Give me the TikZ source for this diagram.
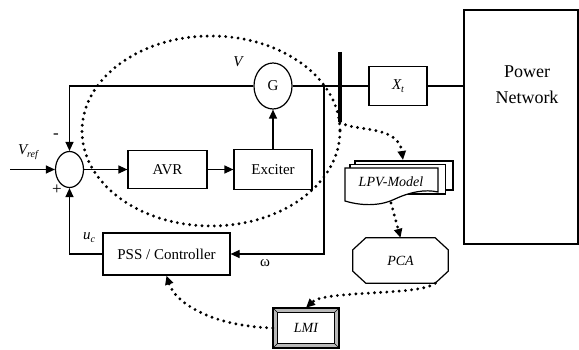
\documentclass[tikz,border=0pt]{standalone}
\usepackage{fontspec}
\setmainfont{Liberation Serif}
\usetikzlibrary{arrows.meta,shapes.geometric}
\newcommand\lbl[2]{{\itshape #1}\raisebox{-3pt}{\fontsize{10}{10}\selectfont\itshape #2}}
\begin{document}
\begin{tikzpicture}[x=1pt,y=-1pt,
  ln/.style={line width=1.2pt},
  arr/.style={ln,-{Triangle[length=9pt,width=8pt]}},
  blk/.style={draw,line width=1.2pt,inner sep=0pt,font=\fontsize{15}{18}\selectfont},
  itl/.style={inner sep=0pt,font=\fontsize{14}{17}\selectfont\itshape},
  txt/.style={inner sep=0pt,font=\fontsize{15}{18}\selectfont},
  dots/.style={line width=3.2pt,line cap=round,dash pattern=on 0pt off 6.2pt},
  darr/.style={dots,-{Triangle[length=9pt,width=8pt]}}
]
\useasboundingbox (0,0) rectangle (579,350);
% large dotted ellipse
\draw[dots] (211,131) ellipse [x radius=129, y radius=95];
% blocks
\node[ellipse,draw,ln,minimum width=28,minimum height=36,inner sep=0pt] (sum) at (69.5,169.5) {};
\node[blk,minimum width=79,minimum height=38] (avr) at (167.5,169.5) {AVR};
\node[blk,minimum width=78,minimum height=40] (exc) at (273,169.5) {Exciter};
\node[ellipse,draw,ln,minimum width=38,minimum height=46,inner sep=0pt,font=\fontsize{15}{18}\selectfont] (g) at (273,86) {G};
\node[blk,minimum width=58,minimum height=39] (xt) at (398,86) {\lbl{X}{t}};
\node[draw,line width=1.4pt,minimum width=114,minimum height=234,inner sep=0pt] (pn) at (521,127) {};
\node[txt,align=center,font=\fontsize{18}{26}\selectfont] (pntxt) at (527,85) {Power\\Network};
\node[blk,minimum width=127,minimum height=42] (pss) at (166.5,254) {PSS / Controller};
% bus bar
\coordinate (bt) at (340,52);
\coordinate (bb) at (340,122);
\draw[line width=3.2pt] (bt) -- (bb);
% connections
\coordinate (tl) at (69.5,86);
\coordinate (vin) at (10,169.5);
\coordinate (tap) at (324,86);
\coordinate (cr) at (324,254);
\coordinate (bl) at (69.5,254);
\draw[ln] (g.east) -- (xt.west);
\draw[ln] (xt.east) -- (xt.east -| pn.west);
\draw[arr] (g.west) -- (tl) -- (sum.north);
\draw[arr] (vin) -- (sum.west);
\draw[arr] (sum.east) -- (avr.west);
\draw[arr] (avr.east) -- (exc.west);
\draw[arr] (exc.north) -- (g.south);
\draw[arr] (tap) -- (cr) -- (pss.east);
\draw[arr] (pss.west) -- (bl) -- (sum.south);
% labels
\node[itl,font=\fontsize{15}{18}\selectfont\itshape] (vref) at (28,152) {\lbl{V}{ref}};
\node[txt,font=\fontsize{17}{18}\selectfont] (minus) at (56,136) {-};
\node[txt,font=\fontsize{17}{18}\selectfont] (plus) at (57,190) {+};
\node[itl,font=\fontsize{15}{18}\selectfont\itshape] (vl) at (238,62) {V};
\node[itl,font=\fontsize{15}{18}\selectfont\itshape] (uc) at (89,238) {\lbl{u}{c}};
\node[txt] (om) at (265,263) {ω};
% LPV model (multi-document)
\draw[ln,fill=white] (355,161) rectangle (453,190);
\draw[ln,fill=white] (350,164.5) rectangle (445.5,194);
\draw[ln,fill=white] (345,168) -- (438,168) -- (438,192) .. controls (425,189) and (410,192) .. (395,199) .. controls (383,205) and (365,207) .. (345,201) -- cycle;
\node[itl] (lpv) at (391,182) {LPV-Model};
\coordinate (lpvtop) at (403,160);
\coordinate (lpvbot) at (391,203);
% PCA
\node[itl,minimum width=95,minimum height=45] (pca) at (400.5,260.5) {PCA};
\draw[ln] ([xshift=13pt]pca.north west) -- ([xshift=-13pt]pca.north east) -- ([yshift=-12pt]pca.north east) -- ([yshift=12pt]pca.south east) -- ([xshift=-13pt]pca.south east) -- ([xshift=13pt]pca.south west) -- ([yshift=12pt]pca.south west) -- ([yshift=-12pt]pca.north west) -- cycle;
% LMI
\node[itl,minimum width=66,minimum height=40] (lmi) at (306,328) {};
\draw[line width=1.8pt,fill=gray!55] (lmi.north west) rectangle (lmi.south east);
\draw[line width=0.9pt,fill=white] ([xshift=5pt,yshift=-5pt]lmi.north west) rectangle ([xshift=-5pt,yshift=5pt]lmi.south east);
\draw[line width=0.7pt] (lmi.north west) -- ([xshift=5pt,yshift=-5pt]lmi.north west)
  (lmi.north east) -- ([xshift=-5pt,yshift=-5pt]lmi.north east)
  (lmi.south west) -- ([xshift=5pt,yshift=5pt]lmi.south west)
  (lmi.south east) -- ([xshift=-5pt,yshift=5pt]lmi.south east);
\node[itl] (lmitxt) at (lmi.center) {LMI};
% dotted arrows
\draw[darr] (bb) .. controls (352,132) and (398,124) .. (lpvtop);
\draw[darr] (lpvbot) -- (pca.north);
\coordinate (pcabr) at ([xshift=-13pt]pca.south east);
\draw[darr] (pcabr) .. controls (420,296) and (325,290) .. (lmi.north);
\draw[darr] (lmi.west) .. controls (210,326) and (175,302) .. (pss.south);
\end{tikzpicture}
\end{document}
